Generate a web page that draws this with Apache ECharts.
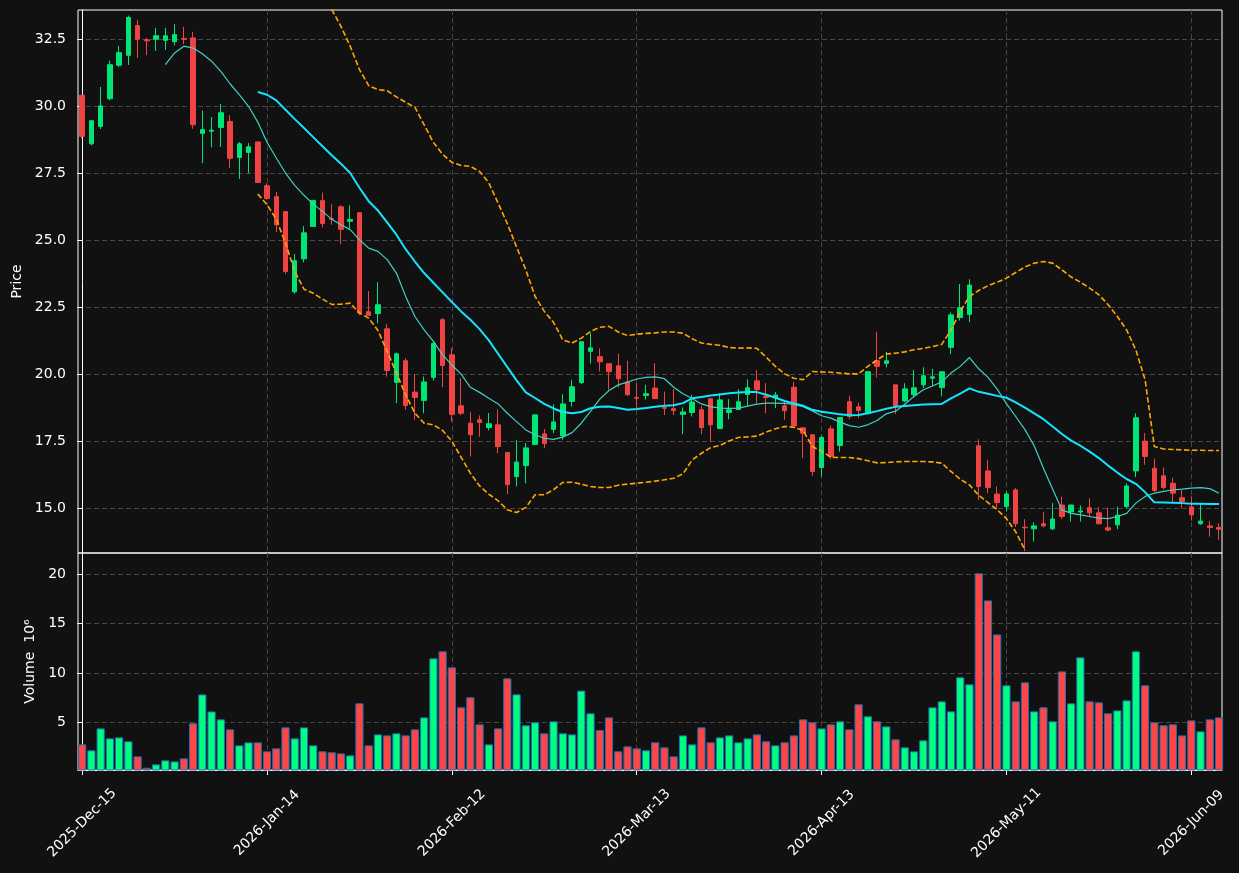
<!DOCTYPE html>
<html>
<head>
<meta charset="utf-8">
<script src="https://cdn.jsdelivr.net/npm/echarts@6/dist/echarts.min.js"></script>
<style>
  html, body { margin: 0; padding: 0; background: #111111; }
  #chart { width: 1239px; height: 873px; }
</style>
</head>
<body>
<div id="chart"></div>
<script>
// daily OHLC (index 0 = 2025-12-15)
const opens = [
  30.40, 28.59, 29.24, 30.27, 31.52, 31.89, 33.00, 32.47, 32.49, 32.45,
  32.40, 32.52, 32.54, 28.98, 29.06, 29.20, 29.42, 28.08, 28.27, 28.66,
  27.03, 26.62, 26.06, 23.07, 24.30, 25.51, 26.47, 25.80, 26.24, 25.70,
  26.02, 22.33, 22.26, 21.69, 19.69, 20.50, 19.33, 19.02, 19.88, 22.03,
  20.72, 18.82, 18.17, 18.30, 18.01, 18.11, 17.08, 16.18, 16.59, 17.38,
  17.77, 17.94, 17.70, 18.98, 19.69, 20.85, 20.65, 20.39, 20.31, 19.71,
  19.13, 19.20, 19.48, 18.75, 18.71, 18.50, 18.57, 18.67, 19.08, 17.97,
  18.57, 18.68, 19.24, 19.75, 19.17, 19.12, 18.82, 19.51, 18.00, 17.74,
  16.52, 17.96, 17.34, 18.97, 18.78, 18.54, 20.50, 20.40, 19.60, 19.00,
  19.23, 19.60, 19.85, 19.50, 21.00, 22.11, 22.23, 17.33, 16.39, 15.53,
  15.06, 15.68, 14.29, 14.23, 14.42, 14.23, 15.12, 14.86, 14.86, 15.02,
  14.83, 14.27, 14.38, 15.06, 16.39, 17.50, 16.49, 16.21, 15.93, 15.39,
  15.05, 14.42, 14.34, 14.28
];
const closes = [
  28.87, 29.45, 30.00, 31.54, 31.99, 33.30, 32.49, 32.43, 32.62, 32.62,
  32.66, 32.49, 29.30, 29.12, 29.10, 29.75, 28.05, 28.59, 28.48, 27.15,
  26.55, 25.57, 23.83, 24.23, 25.27, 26.48, 25.62, 25.78, 25.40, 25.77,
  22.28, 22.19, 22.59, 20.14, 20.76, 18.83, 19.13, 19.71, 21.14, 20.32,
  18.50, 18.54, 17.74, 18.20, 18.15, 17.30, 15.88, 16.72, 17.25, 18.48,
  17.41, 18.22, 18.89, 19.53, 21.21, 20.98, 20.46, 20.09, 19.83, 19.23,
  19.10, 19.27, 19.09, 18.73, 18.64, 18.59, 18.96, 18.01, 18.11, 19.04,
  18.67, 18.97, 19.49, 19.42, 19.13, 19.22, 18.64, 18.07, 17.80, 16.37,
  17.64, 16.93, 18.38, 18.42, 18.64, 20.09, 20.29, 20.50, 18.79, 19.45,
  19.49, 19.94, 19.90, 20.09, 22.21, 22.48, 23.32, 15.81, 15.77, 15.21,
  15.53, 14.42, 14.27, 14.34, 14.34, 14.60, 14.69, 15.12, 14.90, 14.83,
  14.42, 14.19, 14.74, 15.83, 18.37, 16.93, 15.66, 15.77, 15.56, 15.25,
  14.75, 14.52, 14.28, 14.22
];
const lows = [
  28.80, 28.53, 29.14, 30.22, 31.46, 31.53, 31.79, 31.90, 32.05, 32.09,
  32.26, 32.31, 29.15, 27.87, 28.46, 28.47, 27.69, 27.28, 27.50, 27.13,
  26.50, 25.29, 23.73, 23.00, 24.17, 25.50, 25.47, 25.57, 24.85, 25.42,
  22.20, 22.19, 21.90, 19.91, 18.92, 18.67, 18.30, 18.54, 19.76, 19.51,
  18.23, 18.48, 16.93, 17.67, 17.90, 17.05, 15.52, 15.81, 15.93, 17.35,
  17.24, 17.80, 17.55, 18.79, 19.63, 20.39, 20.10, 19.42, 19.50, 19.20,
  18.73, 19.05, 19.09, 18.47, 18.47, 17.76, 18.42, 17.76, 17.46, 17.97,
  18.32, 18.67, 18.82, 18.92, 18.54, 18.73, 18.30, 18.07, 16.87, 16.21,
  16.18, 16.83, 17.11, 18.32, 18.36, 18.50, 19.88, 20.25, 18.51, 18.95,
  19.13, 19.48, 19.56, 19.17, 20.75, 22.00, 21.94, 15.31, 15.56, 15.00,
  14.88, 14.30, 13.40, 13.76, 14.28, 14.19, 14.60, 14.50, 14.50, 14.69,
  14.40, 14.13, 14.22, 15.00, 16.16, 16.62, 15.60, 15.70, 15.19, 15.00,
  14.54, 14.38, 13.94, 13.82
];
const highs = [
  30.40, 29.48, 30.71, 31.69, 32.24, 33.37, 33.21, 32.54, 32.91, 32.91,
  33.05, 32.95, 32.76, 29.83, 29.59, 30.07, 29.66, 28.66, 28.62, 28.66,
  27.12, 26.79, 26.06, 24.48, 25.52, 26.50, 26.77, 26.34, 26.30, 26.30,
  26.02, 23.10, 23.43, 21.87, 20.80, 20.60, 20.00, 19.91, 21.20, 22.09,
  20.97, 19.85, 18.58, 18.46, 18.55, 18.69, 17.10, 17.55, 17.43, 18.50,
  17.95, 18.87, 19.25, 19.79, 21.21, 21.53, 20.96, 20.41, 20.76, 20.50,
  19.66, 19.60, 20.41, 19.35, 19.44, 18.76, 19.23, 18.82, 19.10, 19.29,
  19.07, 19.44, 19.81, 20.15, 19.66, 19.34, 19.04, 19.71, 18.00, 17.74,
  17.70, 18.08, 18.40, 19.19, 18.94, 20.10, 21.58, 20.83, 19.60, 19.66,
  20.16, 20.26, 20.19, 20.10, 22.30, 23.36, 23.54, 17.57, 16.80, 15.81,
  15.62, 15.75, 14.59, 14.47, 14.85, 15.19, 15.43, 15.13, 15.10, 15.37,
  15.04, 15.03, 15.06, 15.93, 18.54, 17.80, 16.85, 16.52, 16.14, 15.68,
  15.44, 15.19, 14.53, 14.44
];
// volume in millions
const volumes = [
  2.77, 2.17, 4.39, 3.38, 3.48, 3.08, 1.56, 0.41, 0.75, 1.16,
  1.05, 1.36, 4.90, 7.82, 6.10, 5.30, 4.29, 2.67, 2.97, 2.97,
  2.07, 2.37, 4.49, 3.38, 4.49, 2.67, 2.07, 1.97, 1.86, 1.66,
  6.92, 2.67, 3.78, 3.68, 3.89, 3.68, 4.29, 5.50, 11.47, 12.18,
  10.56, 6.52, 7.53, 4.80, 2.77, 4.39, 9.45, 7.83, 4.70, 5.00,
  3.89, 5.10, 3.89, 3.78, 8.21, 5.91, 4.22, 5.50, 2.07, 2.57,
  2.37, 2.17, 2.98, 2.47, 1.56, 3.68, 2.77, 4.49, 2.98, 3.48,
  3.68, 2.98, 3.38, 3.78, 3.08, 2.67, 2.98, 3.68, 5.30, 5.00,
  4.39, 4.80, 5.10, 4.29, 6.82, 5.61, 5.10, 4.59, 3.28, 2.47,
  2.07, 3.18, 6.52, 7.12, 6.11, 9.55, 8.84, 20.06, 17.33, 13.89,
  8.74, 7.12, 9.04, 6.11, 6.52, 5.10, 10.15, 6.92, 11.57, 7.12,
  7.02, 5.91, 6.21, 7.22, 12.18, 8.74, 5.00, 4.70, 4.80, 3.68,
  5.20, 4.09, 5.30, 5.50
];
// overlay lines (null = not drawn / off the plot)
const ma10 = [
  null, null, null, null, null, null, null, null, null,
  31.54, 31.98, 32.23, 32.16, 31.95, 31.67, 31.29, 30.83, 30.42, 29.99,
  29.40, 28.65, 28.06, 27.50, 27.04, 26.67, 26.34, 26.07, 25.78, 25.57,
  25.39, 25.01, 24.70, 24.58, 24.27, 23.77, 22.90, 22.15, 21.65, 21.22,
  20.72, 20.34, 20.00, 19.51, 19.32, 19.10, 18.89, 18.54, 18.23, 17.92,
  17.74, 17.61, 17.57, 17.65, 17.82, 18.17, 18.61, 19.07, 19.39, 19.60,
  19.70, 19.82, 19.88, 19.90, 19.83, 19.51, 19.27, 19.09, 18.89, 18.79,
  18.73, 18.72, 18.73, 18.81, 18.88, 18.92, 18.92, 18.91, 18.87, 18.79,
  18.63, 18.45, 18.36, 18.21, 18.08, 18.02, 18.11, 18.27, 18.52, 18.62,
  18.88, 19.17, 19.42, 19.56, 19.71, 20.04, 20.29, 20.62, 20.20, 19.88,
  19.44, 18.90, 18.42, 17.93, 17.33, 16.49, 15.71, 14.94, 14.81, 14.75,
  14.69, 14.63, 14.61, 14.69, 14.81, 15.19, 15.44, 15.56, 15.63, 15.68,
  15.71, 15.75, 15.77, 15.73, 15.56
];
const ma20 = [
  null, null, null, null, null, null, null, null, null, null,
  null, null, null, null, null, null, null, null, null,
  30.52, 30.42, 30.21, 29.86, 29.51, 29.18, 28.84, 28.50, 28.16, 27.85,
  27.50, 26.95, 26.45, 26.10, 25.66, 25.20, 24.66, 24.20, 23.77, 23.41,
  23.05, 22.69, 22.34, 22.03, 21.68, 21.26, 20.76, 20.26, 19.77, 19.32,
  19.11, 18.89, 18.72, 18.59, 18.54, 18.59, 18.73, 18.78, 18.79, 18.74,
  18.67, 18.70, 18.74, 18.78, 18.82, 18.84, 18.92, 19.10, 19.15, 19.20,
  19.24, 19.29, 19.32, 19.33, 19.33, 19.23, 19.12, 19.00, 18.91, 18.82,
  18.67, 18.60, 18.55, 18.50, 18.47, 18.48, 18.54, 18.62, 18.71, 18.78,
  18.81, 18.84, 18.87, 18.88, 18.89, 19.10, 19.27, 19.47, 19.34, 19.27,
  19.19, 19.12, 18.95, 18.75, 18.54, 18.32, 18.05, 17.77, 17.52, 17.33,
  17.11, 16.87, 16.59, 16.33, 16.09, 15.91, 15.60, 15.22, 15.21, 15.20,
  15.19, 15.17, 15.17, 15.16, 15.16
];
const upperBand = [
  null, null, null, null, null, null, null, null, null, null,
  null, null, null, null, null, null, null, null, null, null,
  null, null, null, null, null, null, null,
  33.60, 32.97, 32.23,
  31.36, 30.76, 30.61, 30.57, 30.34, 30.14, 29.95, 29.30, 28.64, 28.20,
  27.90, 27.78, 27.75, 27.56, 27.13, 26.38, 25.61, 24.74, 23.89, 22.90,
  22.34, 21.93, 21.28, 21.16, 21.34, 21.59, 21.75, 21.78, 21.57, 21.44,
  21.49, 21.52, 21.54, 21.57, 21.57, 21.53, 21.32, 21.16, 21.11, 21.08,
  20.99, 20.97, 20.98, 20.96, 20.63, 20.29, 20.01, 19.85, 19.79, 20.10,
  20.08, 20.07, 20.04, 20.01, 20.01, 20.29, 20.53, 20.75, 20.78, 20.83,
  20.91, 20.96, 21.03, 21.11, 21.65, 22.34, 22.90, 23.12, 23.30, 23.43,
  23.58, 23.79, 24.00, 24.14, 24.20, 24.14, 23.89, 23.62, 23.43, 23.21,
  22.96, 22.59, 22.15, 21.65, 20.90, 19.79, 17.30, 17.21, 17.19, 17.18,
  17.16, 17.16, 17.15, 17.15
];
const lowerBand = [
  null, null, null, null, null, null, null, null, null, null,
  null, null, null, null, null, null, null, null, null,
  26.72, 26.32, 25.78, 24.89, 23.83, 23.17, 23.02, 22.80, 22.60, 22.61,
  22.65, 22.28, 22.09, 21.63, 20.85, 20.04, 19.23, 18.54, 18.17, 18.11,
  17.90, 17.50, 16.90, 16.31, 15.83, 15.52, 15.28, 14.94, 14.84, 15.03,
  15.50, 15.50, 15.69, 15.96, 15.97, 15.90, 15.81, 15.77, 15.77, 15.86,
  15.90, 15.93, 15.97, 16.01, 16.06, 16.12, 16.28, 16.80, 17.05, 17.26,
  17.34, 17.51, 17.64, 17.66, 17.69, 17.84, 17.96, 18.05, 18.02, 17.90,
  17.30, 17.13, 16.90, 16.89, 16.89, 16.85, 16.77, 16.69, 16.70, 16.73,
  16.74, 16.74, 16.74, 16.73, 16.68, 16.37, 16.08, 15.87, 15.48, 15.21,
  14.94, 14.61, 14.12, 13.45
];

// axes
const priceTicks = [15, 17.5, 20, 22.5, 25, 27.5, 30, 32.5];
const volumeTicks = [5, 10, 15, 20];
const dateTicks = [0, 20, 40, 60, 80, 100, 120];
const holidays = ["2025-12-25", "2026-01-01", "2026-01-19", "2026-02-16", "2026-04-03", "2026-05-25"];
const monthNames = ["Jan", "Feb", "Mar", "Apr", "May", "Jun", "Jul", "Aug", "Sep", "Oct", "Nov", "Dec"];

// trading days
const dates = [];
const day = new Date(Date.UTC(2025, 11, 15));
while (dates.length < closes.length) {
  const iso = day.toISOString().slice(0, 10);
  const wd = day.getUTCDay();
  if (wd !== 0 && wd !== 6 && !holidays.includes(iso)) {
    dates.push(iso);
  }
  day.setUTCDate(day.getUTCDate() + 1);
}
const fmtDate = (iso) => {
  const p = iso.split("-");
  return p[0] + "-" + monthNames[+p[1] - 1] + "-" + p[2];
};

const UP = "#00e676";
const DOWN = "#f04444";
const VOL_UP = "#00ff80";
const VOL_DOWN = "#ff4646";
const FONT = "DejaVu Sans";

const candleData = closes.map((c, i) => [i, opens[i], c, lows[i], highs[i]]);
const volumeData = volumes.map((v, i) => ({
  value: [i, v],
  itemStyle: { color: closes[i] >= opens[i] ? VOL_UP : VOL_DOWN },
}));
const toPoints = (arr) => {
  const pts = [];
  arr.forEach((v, i) => {
    if (v !== null) {
      pts.push([i, v]);
    }
  });
  return pts;
};

const gridLine = {
  show: true,
  lineStyle: { color: "#464646", type: [5, 3], width: 1 },
};

const chart = echarts.init(document.getElementById("chart"));
const option = {
  backgroundColor: "#111111",
  animation: false,
  textStyle: { fontFamily: FONT },
  grid: [
    { left: 78, right: 17, top: 10, height: 543, show: true, borderColor: "#ffffff", borderWidth: 1 },
    { left: 78, right: 17, top: 553, height: 217, show: true, borderColor: "#ffffff", borderWidth: 1 },
  ],
  xAxis: [
    {
      type: "value",
      gridIndex: 0,
      min: -0.45,
      max: 123.32,
      axisLine: { show: false },
      axisTick: { show: false, customValues: dateTicks },
      axisLabel: { show: false, customValues: dateTicks },
      splitLine: gridLine,
    },
    {
      type: "value",
      gridIndex: 1,
      min: -0.45,
      max: 123.32,
      axisLine: { show: true, lineStyle: { color: "#ffffff" } },
      axisTick: { show: true, length: 5, customValues: dateTicks, lineStyle: { color: "#ffffff" } },
      axisLabel: {
        customValues: dateTicks,
        formatter: (v) => fmtDate(dates[Math.round(v)]),
        rotate: 45,
        align: "center",
        verticalAlign: "middle",
        margin: 53,
        color: "#ffffff",
        fontSize: 14,
        fontFamily: FONT,
      },
      splitLine: gridLine,
    },
  ],
  yAxis: [
    {
      type: "value",
      gridIndex: 0,
      min: 13.33,
      max: 33.58,
      name: "Price",
      nameLocation: "middle",
      nameGap: 50,
      nameTextStyle: { color: "#ffffff", fontSize: 14, fontFamily: FONT },
      axisLine: { show: true, lineStyle: { color: "#ffffff" } },
      axisTick: { show: true, length: 5, customValues: priceTicks, lineStyle: { color: "#ffffff" } },
      axisLabel: {
        customValues: priceTicks,
        formatter: (v) => v.toFixed(1),
        color: "#ffffff",
        fontSize: 14,
        margin: 12,
        fontFamily: FONT,
      },
      splitLine: gridLine,
    },
    {
      type: "value",
      gridIndex: 1,
      min: 0.18,
      max: 22.12,
      name: "Volume  10\u2076",
      nameLocation: "middle",
      nameGap: 37,
      nameTextStyle: { color: "#ffffff", fontSize: 14, fontFamily: FONT },
      axisLine: { show: true, lineStyle: { color: "#ffffff" } },
      axisTick: { show: true, length: 5, customValues: volumeTicks, lineStyle: { color: "#ffffff" } },
      axisLabel: {
        customValues: volumeTicks,
        color: "#ffffff",
        fontSize: 14,
        margin: 12,
        fontFamily: FONT,
      },
      splitLine: gridLine,
    },
  ],
  series: [
    {
      name: "OHLC",
      type: "candlestick",
      xAxisIndex: 0,
      yAxisIndex: 0,
      barWidth: 5,
      encode: { x: 0, y: [1, 2, 3, 4] },
      data: candleData,
      itemStyle: {
        color: UP,
        color0: DOWN,
        borderColor: UP,
        borderColor0: DOWN,
        borderWidth: 1,
      },
    },
    {
      name: "MA10",
      type: "line",
      xAxisIndex: 0,
      yAxisIndex: 0,
      data: toPoints(ma10),
      showSymbol: false,
      lineStyle: { color: "#40d0c4", width: 1.2 },
    },
    {
      name: "MA20",
      type: "line",
      xAxisIndex: 0,
      yAxisIndex: 0,
      data: toPoints(ma20),
      showSymbol: false,
      lineStyle: { color: "#14e4ff", width: 2 },
    },
    {
      name: "Upper",
      type: "line",
      xAxisIndex: 0,
      yAxisIndex: 0,
      data: toPoints(upperBand),
      showSymbol: false,
      lineStyle: { color: "#ffa500", width: 1.6, type: [5.5, 2.5] },
    },
    {
      name: "Lower",
      type: "line",
      xAxisIndex: 0,
      yAxisIndex: 0,
      data: toPoints(lowerBand),
      showSymbol: false,
      lineStyle: { color: "#ffa500", width: 1.6, type: [5.5, 2.5] },
    },
    {
      name: "Volume",
      type: "bar",
      xAxisIndex: 1,
      yAxisIndex: 1,
      barWidth: 8.2,
      data: volumeData,
      itemStyle: { borderColor: "#1f6fb0", borderWidth: 1 },
    },
  ],
};
chart.setOption(option);
</script>
</body>
</html>
